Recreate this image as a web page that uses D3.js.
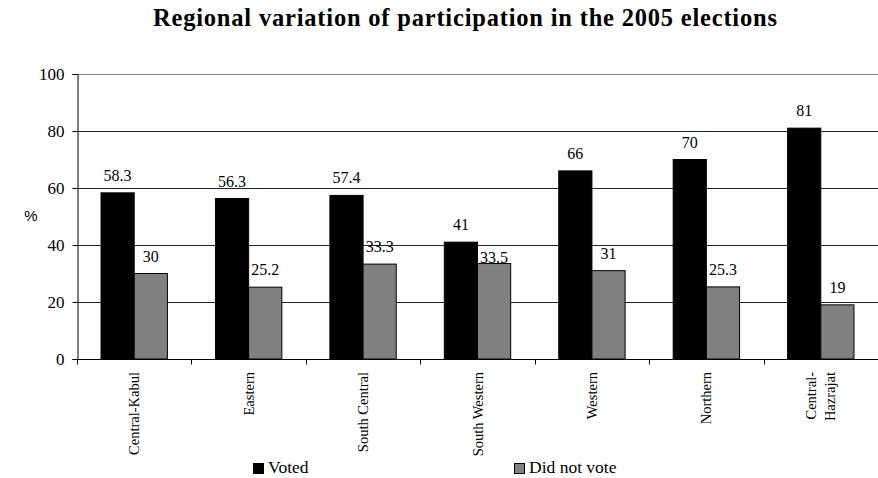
<!DOCTYPE html>
<html><head><meta charset="utf-8">
<script src="https://cdn.jsdelivr.net/npm/d3@7/dist/d3.min.js"></script>
<style>
body{margin:0;background:#fff}
svg text{font-family:"Liberation Serif","Times New Roman",Times,serif;fill:#000}
svg text.sans{font-family:"Liberation Sans",Arial,sans-serif}
</style>
</head><body>
<svg id="c" width="878" height="478"></svg>
<script>
const categories = ["Central-Kabul","Eastern","South Central","South Western","Western","Northern","Central-\nHazrajat"];
const voted = [58.3,56.3,57.4,41,66,70,81];
const notVoted = [30,25.2,33.3,33.5,31,25.3,19];
const yTicks = [0,20,40,60,80,100];
const seriesNames = ["Voted","Did not vote"];
const colors = ["#000000","#808080"];
// label gap above bar (px); the South Western "Did not vote" label sits almost on its bar in the original
const notVotedLabelGap = [12,12,12,1,12,12,12];

const svg = d3.select("#c");
const m = {l:77, r:0, t:74, b:119};
const W = 878, H = 478;
const x = d3.scaleBand().domain(categories).range([m.l, W - m.r]).paddingInner(0).paddingOuter(0);
const y = d3.scaleLinear().domain([0,100]).range([H - m.b, m.t]);
const bw = x.bandwidth()*0.29;
const off = (x.bandwidth() - 2*bw)/2;

// title
svg.append("text").attr("x",153).attr("y",26).attr("textLength",624).attr("lengthAdjust","spacing")
  .style("font-weight","bold").style("font-size","24.5px")
  .text("Regional variation of  participation in the 2005 elections");

// gridlines
svg.append("g").selectAll("line").data(yTicks.filter(d=>d>0)).join("line")
  .attr("x1",m.l).attr("x2",W).attr("y1",d=>y(d)+0.5).attr("y2",d=>y(d)+0.5)
  .attr("stroke",d=>d===100?"#888":"#222").attr("stroke-width",1);

// y axis
const ya = svg.append("g").attr("transform",`translate(${m.l+0.5},0)`)
  .call(d3.axisLeft(y).tickValues(yTicks).tickSize(5).tickPadding(8));
ya.attr("font-family",null).attr("font-size",null);
ya.select(".domain").attr("stroke","#000");
ya.selectAll("text").style("font-size","17px").attr("fill","#000").attr("dy","0.35em");
ya.selectAll("line").attr("stroke","#000");

svg.append("text").attr("class","sans").attr("x",31).attr("y",221).attr("text-anchor","middle")
  .style("font-size","15px").text("%");

// bars
const g = svg.append("g");
categories.forEach((c,i)=>{
  [voted[i], notVoted[i]].forEach((v,j)=>{
    const bx = x(c) + off + j*bw;
    g.append("rect").attr("x",bx).attr("y",y(v)).attr("width",bw).attr("height",y(0)-y(v))
      .attr("fill",colors[j]).attr("stroke","#000").attr("stroke-width",1);
    const gap = j===0 ? 12 : notVotedLabelGap[i];
    g.append("text").attr("x",bx+bw/2).attr("y",y(v)-gap).attr("text-anchor","middle")
      .style("font-size","16px").text(v);
  });
});

// x axis
const xa = svg.append("g").attr("transform",`translate(0,${y(0)+0.5})`);
xa.append("line").attr("x1",m.l).attr("x2",W).attr("stroke","#000");
const bounds = d3.range(categories.length+1).map(k=>m.l + k*x.bandwidth());
xa.selectAll(".tk").data(bounds).join("line").attr("class","tk")
  .attr("x1",d=>Math.round(d)+0.5).attr("x2",d=>Math.round(d)+0.5).attr("y1",0).attr("y2",5).attr("stroke","#000");

categories.forEach(c=>{
  const lines = c.split("\n");
  const cx = x(c) + x.bandwidth()/2;
  const t = svg.append("text").attr("transform",`translate(${cx},${y(0)+13}) rotate(-90)`)
    .attr("text-anchor","end").style("font-size","14.5px");
  lines.forEach((l,k)=>{
    t.append("tspan").attr("x",0).attr("y", (k - (lines.length-1)/2)*19 + 5).text(l);
  });
});

// legend
const leg = [{x:253,t:seriesNames[0]},{x:514,t:seriesNames[1]}];
leg.forEach((d,i)=>{
  svg.append("rect").attr("x",d.x+0.5).attr("y",463.5).attr("width",10).attr("height",10)
    .attr("fill",colors[i]).attr("stroke","#000").attr("stroke-width",1);
  svg.append("text").attr("x",d.x+15).attr("y",473)
    .style("font-size","17.5px").text(d.t);
});
</script>
</body></html>
